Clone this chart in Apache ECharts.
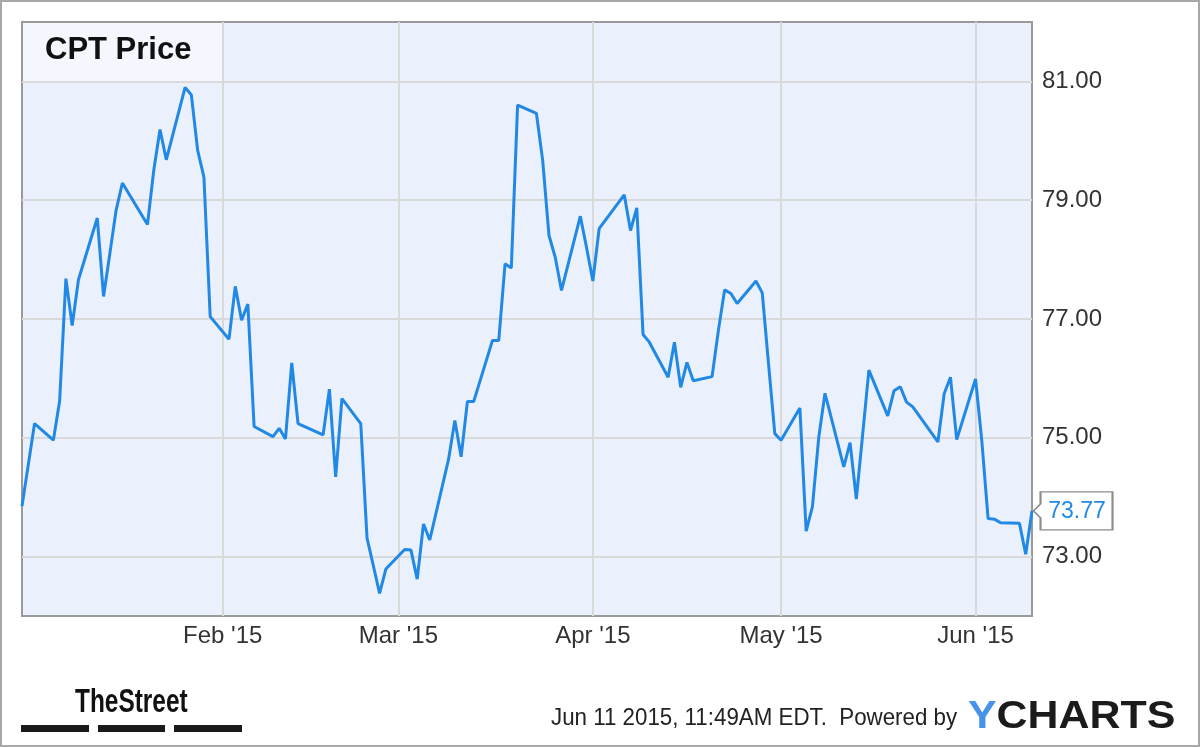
<!DOCTYPE html>
<html>
<head>
<meta charset="utf-8">
<title>CPT Price</title>
<script src="https://cdn.jsdelivr.net/npm/echarts@6/dist/echarts.min.js"></script>
<style>
  html, body {margin: 0; padding: 0; background: #fff;}
  #main {width: 1200px; height: 747px;}
</style>
</head>
<body>
<div id="main"></div>
<script>
// trading days (Dec 31 2014 - Jun 10 2015)
const dates = [
  '2014-12-31', '2015-01-02', '2015-01-05', '2015-01-06', '2015-01-07', '2015-01-08', '2015-01-09',
  '2015-01-12', '2015-01-13', '2015-01-14', '2015-01-15', '2015-01-16', '2015-01-20', '2015-01-21',
  '2015-01-22', '2015-01-23', '2015-01-26', '2015-01-27', '2015-01-28', '2015-01-29', '2015-01-30',
  '2015-02-02', '2015-02-03', '2015-02-04', '2015-02-05', '2015-02-06', '2015-02-09', '2015-02-10',
  '2015-02-11', '2015-02-12', '2015-02-13', '2015-02-17', '2015-02-18', '2015-02-19', '2015-02-20',
  '2015-02-23', '2015-02-24', '2015-02-25', '2015-02-26', '2015-02-27', '2015-03-02', '2015-03-03',
  '2015-03-04', '2015-03-05', '2015-03-06', '2015-03-09', '2015-03-10', '2015-03-11', '2015-03-12',
  '2015-03-13', '2015-03-16', '2015-03-17', '2015-03-18', '2015-03-19', '2015-03-20', '2015-03-23',
  '2015-03-24', '2015-03-25', '2015-03-26', '2015-03-27', '2015-03-30', '2015-03-31', '2015-04-01',
  '2015-04-02', '2015-04-06', '2015-04-07', '2015-04-08', '2015-04-09', '2015-04-10', '2015-04-13',
  '2015-04-14', '2015-04-15', '2015-04-16', '2015-04-17', '2015-04-20', '2015-04-21', '2015-04-22',
  '2015-04-23', '2015-04-24', '2015-04-27', '2015-04-28', '2015-04-29', '2015-04-30', '2015-05-01',
  '2015-05-04', '2015-05-05', '2015-05-06', '2015-05-07', '2015-05-08', '2015-05-11', '2015-05-12',
  '2015-05-13', '2015-05-14', '2015-05-15', '2015-05-18', '2015-05-19', '2015-05-20', '2015-05-21',
  '2015-05-22', '2015-05-26', '2015-05-27', '2015-05-28', '2015-05-29', '2015-06-01', '2015-06-02',
  '2015-06-03', '2015-06-04', '2015-06-05', '2015-06-08', '2015-06-09', '2015-06-10'
];

const prices = [
  73.85, 75.24, 74.96, 75.62, 77.68, 76.89, 77.66,
  78.70, 77.38, 78.10, 78.83, 79.29, 78.59, 79.50,
  80.19, 79.68, 80.90, 80.77, 79.84, 79.39, 77.04,
  76.66, 77.55, 76.98, 77.25, 75.19, 75.02, 75.16,
  74.98, 76.26, 75.24, 75.05, 75.82, 74.34, 75.66,
  75.24, 73.31, 72.85, 72.38, 72.79, 73.12, 73.11,
  72.62, 73.55, 73.28, 74.64, 75.29, 74.68, 75.61,
  75.61, 76.64, 76.64, 77.93, 77.86, 80.60, 80.46,
  79.67, 78.41, 78.04, 77.48, 78.73, 78.20, 77.64,
  78.52, 79.09, 78.49, 78.87, 76.74, 76.61, 76.02,
  76.61, 75.85, 76.27, 75.96, 76.03, 76.80, 77.49,
  77.43, 77.26, 77.64, 77.44, 76.25, 75.07, 74.96,
  75.50, 73.43, 73.84, 75.00, 75.75, 74.51, 74.92,
  73.97, 75.05, 76.14, 75.37, 75.79, 75.86, 75.60,
  75.52, 74.93, 75.74, 76.02, 74.97, 75.99, 74.95,
  73.64, 73.63, 73.57, 73.56, 73.04, 73.77
];

const yTicks = [73, 75, 77, 79, 81];
const monthTicks = ['2015-02-01', '2015-03-01', '2015-04-01', '2015-05-01', '2015-06-01'];
const monthNames = ['Jan', 'Feb', 'Mar', 'Apr', 'May', 'Jun', 'Jul', 'Aug', 'Sep', 'Oct', 'Nov', 'Dec'];

const toTime = (s) => {
  const p = s.split('-');
  return new Date(+p[0], +p[1] - 1, +p[2]).getTime();
};

const lineColor = '#2188e6';
const fontFamily = '"Liberation Sans", Arial, sans-serif';

const chart = echarts.init(document.getElementById('main'), null, {renderer: 'canvas'});

const seriesData = dates.map((d, i) => [toTime(d), prices[i]]);
const last = seriesData[seriesData.length - 1];

const option = {
  backgroundColor: '#fff',
  animation: false,
  grid: {
    left: 22,
    top: 22,
    right: 168,
    bottom: 131,
    show: true,
    borderColor: '#9a9a9a',
    borderWidth: 2,
    backgroundColor: 'transparent'
  },
  // dates on a numeric axis (ms), so the month ticks can be placed exactly
  xAxis: {
    type: 'value',
    min: toTime(dates[0]),
    max: toTime(dates[dates.length - 1]),
    axisLine: {show: false},
    axisTick: {show: false, customValues: monthTicks.map(toTime)},
    splitLine: {show: true, lineStyle: {color: '#d9d9d9', width: 2}},
    axisLabel: {
      customValues: monthTicks.map(toTime),
      color: '#333',
      fontSize: 24,
      fontFamily: fontFamily,
      margin: 8,
      formatter: (v) => {
        const d = new Date(v);
        return monthNames[d.getMonth()] + " '" + String(d.getFullYear()).slice(2);
      }
    }
  },
  yAxis: {
    type: 'value',
    position: 'right',
    min: 72,
    max: 82,
    axisLine: {show: false},
    axisTick: {show: false, customValues: yTicks},
    splitLine: {show: true, lineStyle: {color: '#d9d9d9', width: 2}},
    axisLabel: {
      customValues: yTicks,
      color: '#333',
      fontSize: 24,
      fontFamily: fontFamily,
      margin: 10,
      formatter: (v) => v.toFixed(2)
    }
  },
  graphic: [
    // plot background and title box
    {type: 'rect', z: -10, shape: {x: 22, y: 22, width: 1010, height: 594}, style: {fill: '#eaf1fd'}},
    {type: 'rect', z: -9, shape: {x: 22, y: 22, width: 202, height: 60}, style: {fill: '#f4f7fe'}},
    {
      type: 'text', left: 45, top: 35,
      style: {text: 'CPT Price', fill: '#111', font: 'bold 31px ' + fontFamily}
    },
    // outer frame
    {
      type: 'rect', z: 10,
      shape: {x: 1, y: 1, width: 1198, height: 745},
      style: {fill: 'none', stroke: '#a8a8a8', lineWidth: 2}
    },
    // TheStreet logo
    {
      type: 'text', x: 75, y: 686, scaleX: 0.74,
      style: {text: 'TheStreet', fill: '#111', font: 'bold 33px ' + fontFamily}
    },
    {type: 'rect', shape: {x: 21, y: 725, width: 68, height: 7}, style: {fill: '#1a1a1a'}},
    {type: 'rect', shape: {x: 98, y: 725, width: 67, height: 7}, style: {fill: '#1a1a1a'}},
    {type: 'rect', shape: {x: 174, y: 725, width: 68, height: 7}, style: {fill: '#1a1a1a'}},
    // footer
    {
      type: 'text', x: 551, y: 706, scaleX: 0.93,
      style: {text: 'Jun 11 2015, 11:49AM EDT.  Powered by', fill: '#222', font: '24px ' + fontFamily}
    },
    {
      type: 'text', x: 968, y: 698, scaleX: 1.1,
      style: {
        text: '{y|Y}{c|CHARTS}',
        rich: {
          y: {fill: '#4792ea', font: 'bold 39px ' + fontFamily},
          c: {fill: '#1b1b1b', font: 'bold 39px ' + fontFamily}
        }
      }
    }
  ],
  series: [
    {
      type: 'line',
      data: seriesData,
      showSymbol: false,
      lineStyle: {color: lineColor, width: 3},
      itemStyle: {color: lineColor},
      markPoint: {
        silent: true,
        symbol: 'path://M0,19 L7,12 L7,0 L79,0 L79,38 L7,38 L7,26 Z',
        symbolSize: [79, 38],
        symbolOffset: [41, 0],
        itemStyle: {color: '#fff', borderColor: '#8c8c8c', borderWidth: 1.5},
        label: {
          show: true,
          position: 'inside',
          offset: [4, 1],
          color: lineColor,
          fontSize: 23,
          fontFamily: fontFamily,
          formatter: (p) => p.value.toFixed(2)
        },
        data: [{coord: last, value: last[1]}]
      }
    }
  ]
};

chart.setOption(option);
</script>
</body>
</html>
